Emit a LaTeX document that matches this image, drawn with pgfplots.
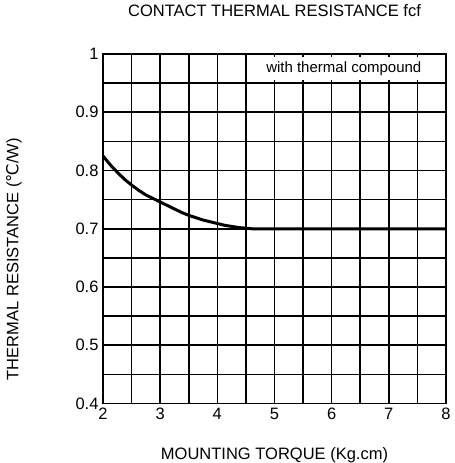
\documentclass[border=0pt]{standalone}
\usepackage{fontspec}
\setmainfont{Liberation Sans}
\newfontfamily\dejavu{DejaVu Sans}
\usepackage{pgfplots}
\pgfplotsset{compat=1.18}

\begin{document}
\begin{tikzpicture}
\begin{axis}[
    at={(0,0)}, anchor=south west,
    scale only axis,
    width=343bp, height=349.5bp,
    xmin=2, xmax=8, ymin=0.4, ymax=1,
    xtick={2,3,...,8},
    ytick={0.4,0.5,...,1.0},
    yticklabels={0.4,0.5,0.6,0.7,0.8,0.9,1},
    minor xtick={2.5,3.5,...,7.5},
    minor ytick={0.45,0.55,...,0.95},
    grid=both,
    major grid style={black, line width=1.6bp},
    minor grid style={black, line width=1.6bp},
    axis line style={black, line width=1.6bp},
    major tick length=0pt, minor tick length=0pt,
    tick label style={font=\fontsize{16.5bp}{19bp}\selectfont},
    /pgf/number format/assume math mode=true,
    xticklabel style={yshift=-1bp},
    yticklabel style={xshift=-1bp},
    title={CONTACT THERMAL RESISTANCE fcf},
    title style={at={(0.5,1)}, anchor=base, yshift=31.5bp, font=\fontsize{16.5bp}{19bp}\selectfont},
    xlabel={MOUNTING TORQUE (Kg.cm)},
    xlabel style={at={(0.5,0)}, anchor=base, yshift=-55.5bp, font=\fontsize{16.5bp}{19bp}\selectfont},
    ylabel={THERMAL RESISTANCE ({\dejavu ℃}/W)},
    ylabel style={at={(-0.2595,0.413)}, anchor=center, font=\fontsize{16.5bp}{19bp}\selectfont},
]
\addplot[black, line width=3bp, line join=round] coordinates {
    (2.00,0.825) (2.125,0.810) (2.25,0.797) (2.375,0.785) (2.50,0.775)
    (2.625,0.766) (2.75,0.758) (2.875,0.752) (3.00,0.746) (3.125,0.740)
    (3.25,0.734) (3.375,0.728) (3.50,0.723) (3.625,0.719) (3.75,0.715)
    (3.875,0.712) (4.00,0.709) (4.125,0.706) (4.25,0.704) (4.375,0.702)
    (4.50,0.701) (4.60,0.700) (8.00,0.700)
};
\fill[white] (axis cs:4.535,0.9945) rectangle (axis cs:7.975,0.9555);
\node[anchor=east, font=\fontsize{15bp}{18bp}\selectfont] at (axis cs:7.63,0.975) {with thermal compound};
\end{axis}
\pgfresetboundingbox
\path[use as bounding box] (-103bp,-59.5bp) rectangle (352bp,403.5bp);
\end{tikzpicture}
\end{document}
